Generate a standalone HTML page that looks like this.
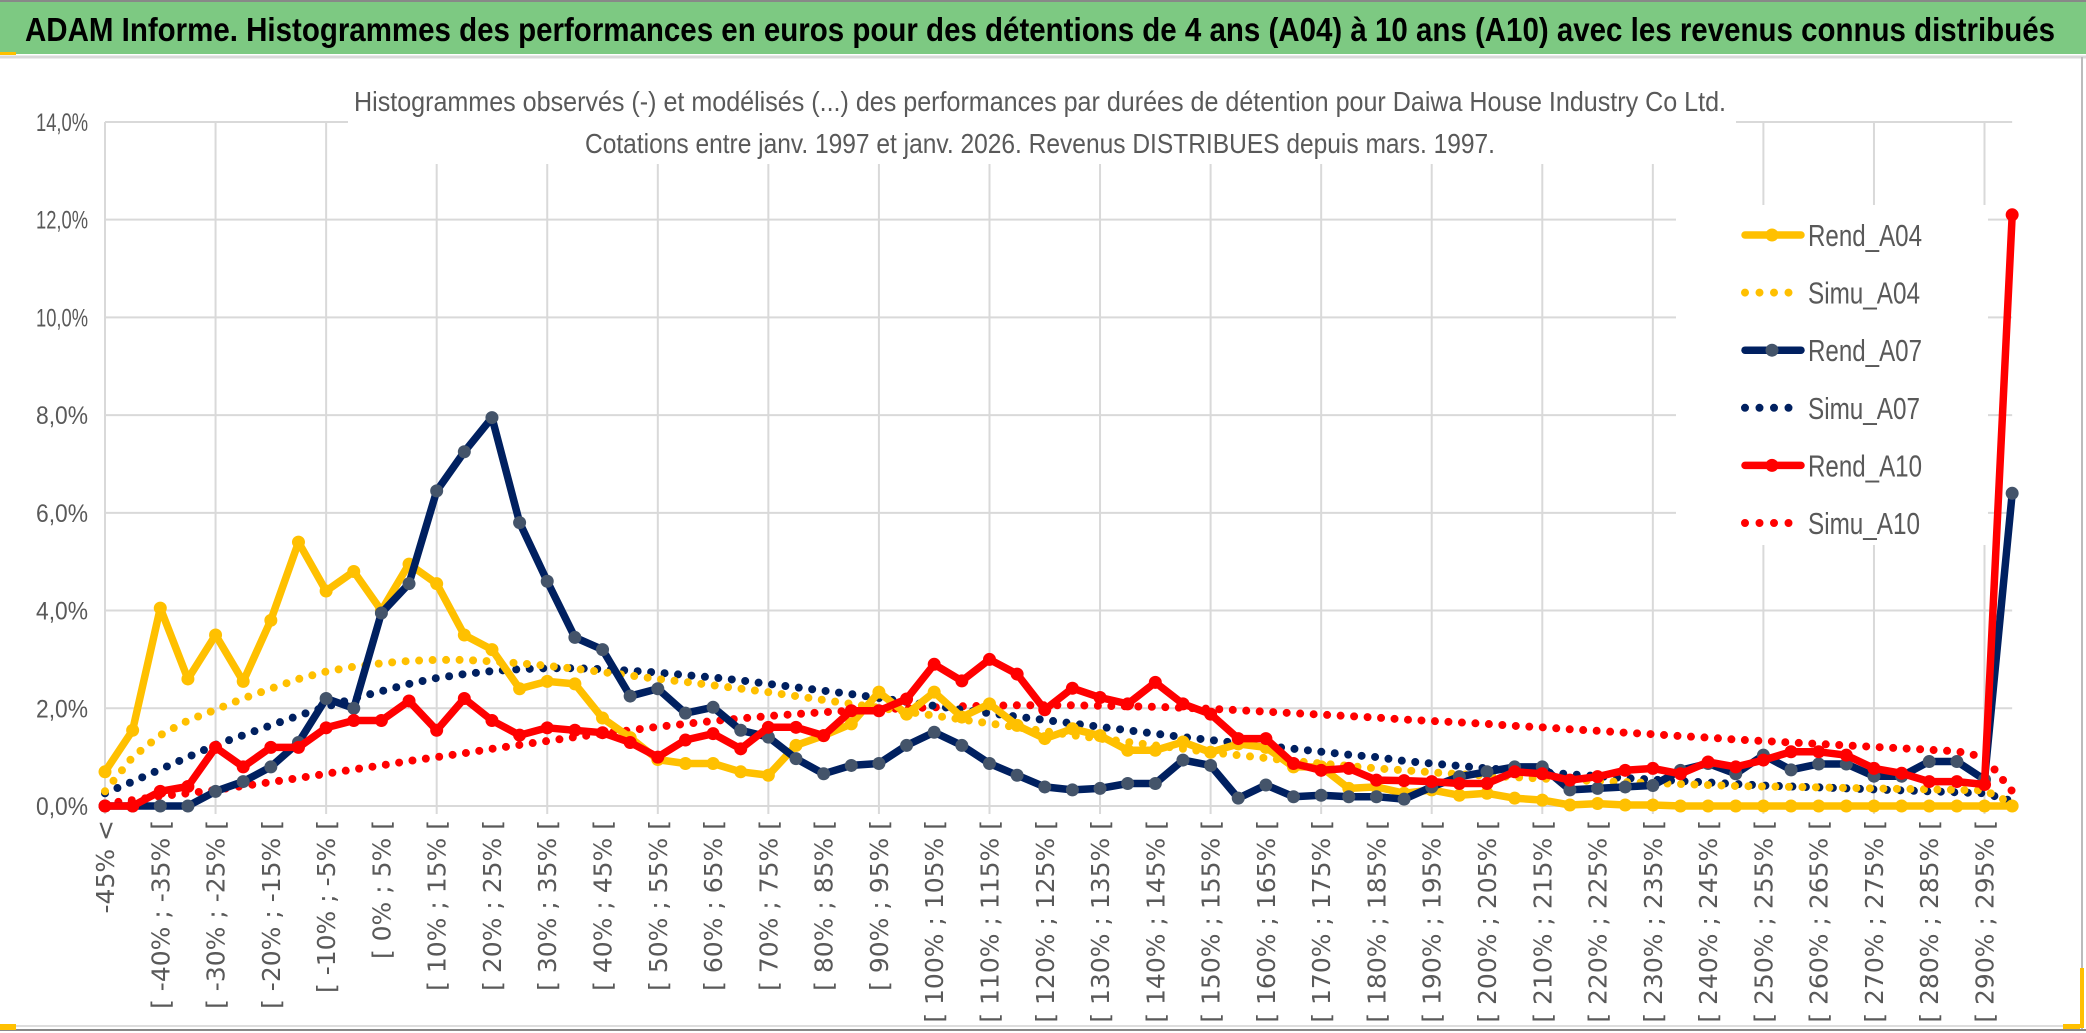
<!DOCTYPE html>
<html><head><meta charset="utf-8"><style>
html,body{margin:0;padding:0;background:#fff;}
svg{display:block;}
</style></head><body>
<svg id="chart" width="2086" height="1033" viewBox="0 0 2086 1033" xmlns="http://www.w3.org/2000/svg">
  <rect x="0" y="0" width="2086" height="1033" fill="#fff"/>
  <rect x="0" y="2" width="2086" height="52" fill="#7DC982"/>
  <line x1="0" y1="1" x2="2086" y2="1" stroke="#888" stroke-width="2"/>
  <rect x="0" y="52" width="16" height="3" fill="#FFC000"/>
  <line x1="0" y1="57" x2="2086" y2="57" stroke="#d9d9d9" stroke-width="3"/>
  <text x="25" y="41" font-family="'Liberation Sans',sans-serif" font-weight="bold" font-size="33" fill="#000" textLength="2030" lengthAdjust="spacingAndGlyphs">ADAM Informe. Histogrammes des performances en euros pour des détentions de 4 ans (A04) à 10 ans (A10) avec les revenus connus distribués</text>
  <line x1="2082" y1="57" x2="2082" y2="1030" stroke="#bbb" stroke-width="2"/>
  <line x1="0" y1="1030" x2="2086" y2="1030" stroke="#888" stroke-width="2"/>
  <line x1="0" y1="1026" x2="2080" y2="1026" stroke="#ddd" stroke-width="2"/>
  <rect x="0" y="1024" width="16" height="6" fill="#FFC000"/>
  <rect x="2063" y="1024" width="17" height="5" fill="#FFC000"/>
  <rect x="2080" y="968" width="4" height="60" fill="#FFC000"/>
  <g id="grid"></g>
  <g id="series"></g>
  <rect x="348" y="80" width="1388" height="84" fill="#fff"/>
  <text x="1040" y="111" text-anchor="middle" font-family="'Liberation Sans',sans-serif" font-size="28" fill="#595959" textLength="1372" lengthAdjust="spacingAndGlyphs">Histogrammes observés (-) et modélisés (...) des performances par durées de détention pour Daiwa House Industry Co Ltd.</text>
  <text x="1040" y="153" text-anchor="middle" font-family="'Liberation Sans',sans-serif" font-size="28" fill="#595959" textLength="910" lengthAdjust="spacingAndGlyphs">Cotations entre janv. 1997 et janv. 2026. Revenus DISTRIBUES depuis mars. 1997.</text>
  <g id="yaxis"></g>
  <g id="xaxis"></g>
  <g id="legend"></g>
</svg>
<script>
const yTicks = [0,2,4,6,8,10,12,14];
const lowerBounds = [];
for (let b = -45; b <= 295; b += 5) lowerBounds.push(b);
const categories = ["-45% <"].concat(lowerBounds.map(b => "[ " + b + "% ; " + (b+5) + "% ["));
const rendA04 = [0.7,1.55,4.05,2.6,3.5,2.55,3.8,5.4,4.4,4.8,4.0,4.95,4.55,3.5,3.2,2.4,2.55,2.5,1.8,1.4,0.95,0.87,0.87,0.7,0.63,1.24,1.44,1.68,2.33,1.88,2.33,1.82,2.09,1.65,1.38,1.58,1.44,1.14,1.14,1.31,1.1,1.27,1.2,0.8,0.8,0.36,0.39,0.26,0.33,0.22,0.26,0.16,0.12,0.02,0.05,0.02,0.02,0,0,0,0,0,0,0,0,0,0,0,0,0];
const rendA07 = [0,0,0,0,0.3,0.5,0.8,1.3,2.2,2.0,3.95,4.55,6.45,7.25,7.95,5.8,4.6,3.45,3.2,2.25,2.4,1.9,2.02,1.55,1.41,0.97,0.66,0.83,0.87,1.24,1.51,1.24,0.87,0.63,0.39,0.33,0.36,0.46,0.46,0.94,0.83,0.16,0.43,0.19,0.22,0.19,0.19,0.14,0.39,0.6,0.7,0.8,0.8,0.33,0.36,0.39,0.42,0.73,0.87,0.66,1.04,0.74,0.86,0.86,0.61,0.61,0.91,0.91,0.54,6.4];
const rendA10 = [0,0,0.3,0.4,1.2,0.8,1.2,1.2,1.6,1.75,1.75,2.15,1.55,2.2,1.75,1.45,1.6,1.55,1.5,1.3,1.0,1.35,1.48,1.17,1.61,1.61,1.44,1.95,1.95,2.19,2.9,2.56,3.0,2.7,1.97,2.41,2.22,2.09,2.53,2.09,1.88,1.38,1.38,0.87,0.73,0.77,0.53,0.52,0.5,0.46,0.46,0.7,0.66,0.53,0.6,0.73,0.77,0.66,0.9,0.8,0.94,1.11,1.11,1.04,0.77,0.67,0.5,0.5,0.44,12.1];
const simuA04 = [0.3,1.0,1.45,1.75,1.97,2.2,2.4,2.6,2.75,2.85,2.92,2.97,2.99,2.99,2.96,2.92,2.87,2.81,2.74,2.67,2.6,2.54,2.47,2.4,2.33,2.25,2.17,2.09,2.01,1.93,1.85,1.77,1.69,1.61,1.53,1.45,1.38,1.31,1.24,1.17,1.1,1.04,0.98,0.92,0.87,0.82,0.77,0.73,0.69,0.65,0.62,0.59,0.56,0.53,0.51,0.49,0.47,0.45,0.43,0.41,0.4,0.39,0.38,0.37,0.36,0.35,0.34,0.33,0.32,0.05];
const simuA07 = [0.26,0.5,0.75,1.0,1.25,1.45,1.65,1.85,2.03,2.2,2.35,2.5,2.62,2.7,2.76,2.8,2.82,2.82,2.8,2.77,2.73,2.68,2.63,2.57,2.5,2.43,2.36,2.29,2.21,2.13,2.05,1.97,1.9,1.83,1.76,1.69,1.62,1.55,1.48,1.41,1.35,1.29,1.23,1.17,1.11,1.05,1.0,0.92,0.87,0.82,0.77,0.73,0.69,0.65,0.61,0.57,0.54,0.51,0.48,0.45,0.42,0.4,0.38,0.36,0.34,0.32,0.3,0.28,0.26,0.1];
const simuA10 = [0.05,0.12,0.2,0.26,0.33,0.41,0.49,0.57,0.66,0.75,0.83,0.92,1.0,1.08,1.17,1.25,1.33,1.41,1.48,1.55,1.62,1.68,1.74,1.79,1.84,1.88,1.92,1.95,1.98,2.0,2.02,2.04,2.05,2.06,2.06,2.06,2.05,2.04,2.03,2.01,1.99,1.96,1.93,1.9,1.87,1.84,1.81,1.77,1.74,1.71,1.68,1.64,1.61,1.57,1.54,1.5,1.47,1.43,1.4,1.36,1.33,1.3,1.27,1.24,1.21,1.18,1.15,1.12,1.0,0.3];

const NS = "http://www.w3.org/2000/svg";
const X0 = 105, DX = 27.64, Y0 = 806, PXPCT = 48.86;
function xs(i){ return X0 + i*DX; }
function ys(v){ return Y0 - v*PXPCT; }
function mk(tag, attrs, parent){ const e=document.createElementNS(NS,tag); for(const k in attrs) e.setAttribute(k,attrs[k]); parent.appendChild(e); return e; }

const grid = document.getElementById('grid');
const xRight = xs(categories.length-1);
yTicks.forEach(t => {
  const l = mk('line',{x1:X0,x2:xRight,y1:ys(t),y2:ys(t),stroke:'#d9d9d9','stroke-width':2},grid);
  
  
});
for (let i=0;i<categories.length;i+=4){
  const l = mk('line',{x1:xs(i),x2:xs(i),y1:ys(14),y2:Y0+8,stroke:'#d9d9d9','stroke-width':2},grid);
  
  
}

const yaxis = document.getElementById('yaxis');
yTicks.forEach(t => {
  const tx = mk('text',{x:88,y:ys(t)+9,'text-anchor':'end','font-family':"'Liberation Sans',sans-serif",'font-size':25,fill:'#595959',textLength:52,lengthAdjust:'spacingAndGlyphs'},yaxis);
  tx.textContent = t.toFixed(1).replace('.',',') + '%';
  
  
});

const xaxis = document.getElementById('xaxis');
categories.forEach((c,i) => {
  if (i !== 0 && i % 2 !== 0) return;
  const x = xs(i)+9;
  const tx = mk('text',{x:0,y:0,transform:`translate(${x},820) rotate(-90)`,'text-anchor':'end','font-family':"'DejaVu Sans',sans-serif",'font-size':25,fill:'#595959'},xaxis);
  tx.textContent = c;
  
  
});

const series = document.getElementById('series');
function pts(arr){ return arr.map((v,i)=>xs(i).toFixed(1)+','+ys(v).toFixed(1)).join(' '); }
function dotted(arr,color,name){
  const p = mk('polyline',{points:pts(arr),fill:'none',stroke:color,'stroke-width':8,'stroke-linecap':'round','stroke-dasharray':'0 13.5'},series);
  
  
}
function solid(arr,color,mcolor,name){
  const g = mk('g',{},series);
  
  
  mk('polyline',{points:pts(arr),fill:'none',stroke:color,'stroke-width':7.5,'stroke-linejoin':'round'},g);
  arr.forEach((v,i)=>{
    const c = mk('circle',{cx:xs(i),cy:ys(v),r:6.5,fill:mcolor},g);
    
    
  });
}
dotted(simuA10,'#FF0000','simu-a10-line');
dotted(simuA07,'#002060','simu-a07-line');
dotted(simuA04,'#FFC000','simu-a04-line');
solid(rendA04,'#FFC000','#FFC000','rend-a04-line');
solid(rendA07,'#002060','#44546A','rend-a07-line');
solid(rendA10,'#FF0000','#FF0000','rend-a10-line');

const legend = document.getElementById('legend');
mk('rect',{x:1676,y:205,width:312,height:340,fill:'#fff'},legend);
const legNames = ['Rend_A04','Simu_A04','Rend_A07','Simu_A07','Rend_A10','Simu_A10'];
const legColors = ['#FFC000','#FFC000','#002060','#002060','#FF0000','#FF0000'];
const legMarks = ['#FFC000',null,'#44546A',null,'#FF0000',null];
legNames.forEach((n,k)=>{
  const y = 235 + k*57.6;
  const g = mk('g',{},legend);
  
  
  if (legMarks[k]) {
    mk('line',{x1:1745,x2:1801,y1:y,y2:y,stroke:legColors[k],'stroke-width':7.5,'stroke-linecap':'round'},g);
    mk('circle',{cx:1772,cy:y,r:6.5,fill:legMarks[k]},g);
  } else {
    mk('line',{x1:1745,x2:1800,y1:y,y2:y,stroke:legColors[k],'stroke-width':8,'stroke-linecap':'round','stroke-dasharray':'0 14.5'},g);
  }
  const t = mk('text',{x:1808,y:y+11,'font-family':"'Liberation Sans',sans-serif",'font-size':31,fill:'#595959',textLength:n.startsWith('Rend')?114:112,lengthAdjust:'spacingAndGlyphs'},g);
  t.textContent = n;
});
</script>
</body></html>
